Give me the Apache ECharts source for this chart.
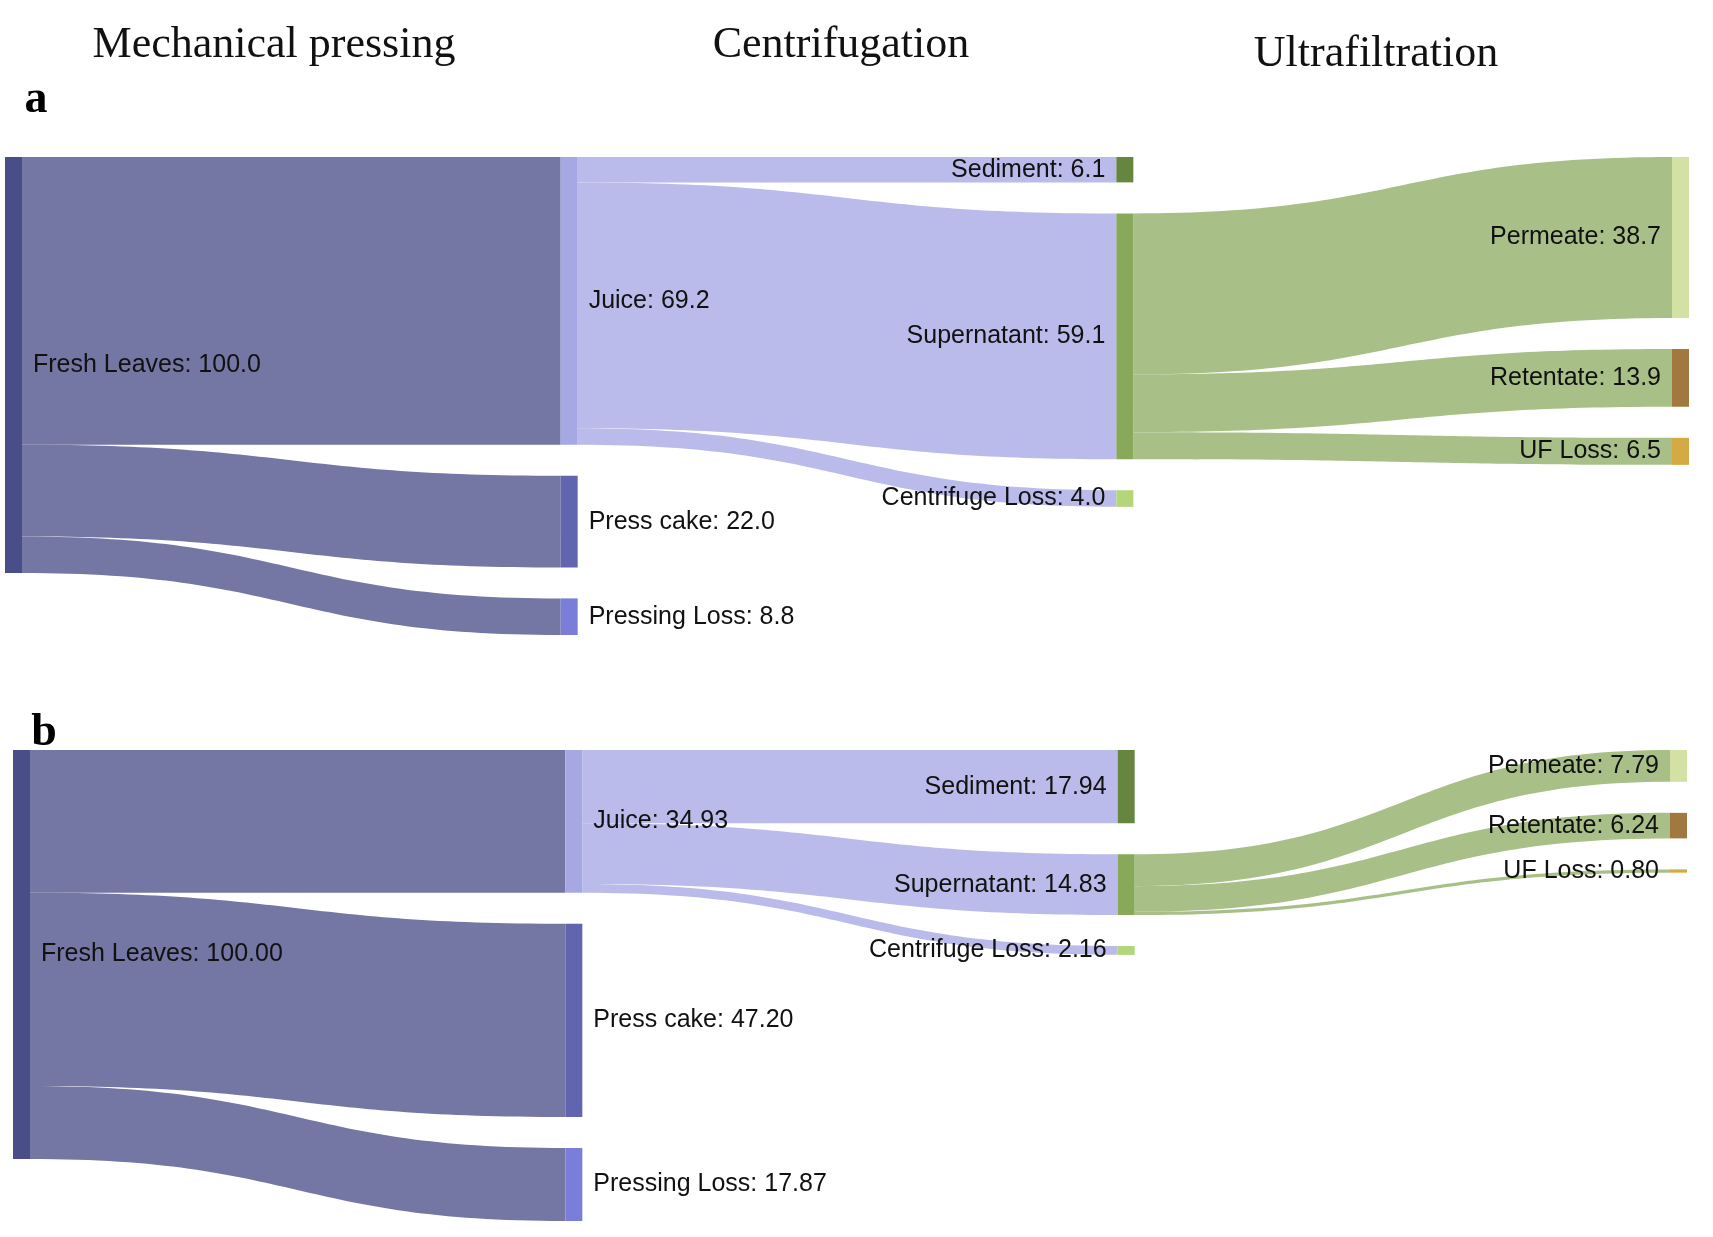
<!DOCTYPE html>
<html>
<head>
<meta charset="utf-8">
<script src="https://cdn.jsdelivr.net/npm/echarts@6/dist/echarts.min.js"></script>
<style>
html,body{margin:0;padding:0;background:#fff;}
#chart{width:1713px;height:1237px;}
</style>
</head>
<body>
<div id="chart"></div>
<script>
// ---- data ----
const stageTitles = ['Mechanical pressing', 'Centrifugation', 'Ultrafiltration'];
const panelLetters = ['a', 'b'];
const nodeNames = ['Fresh Leaves', 'Juice', 'Press cake', 'Pressing Loss', 'Sediment', 'Supernatant', 'Centrifuge Loss', 'Permeate', 'Retentate', 'UF Loss'];
const linkSources = ['Fresh Leaves', 'Fresh Leaves', 'Fresh Leaves', 'Juice', 'Juice', 'Juice', 'Supernatant', 'Supernatant', 'Supernatant'];
const linkTargets = ['Juice', 'Press cake', 'Pressing Loss', 'Sediment', 'Supernatant', 'Centrifuge Loss', 'Permeate', 'Retentate', 'UF Loss'];
const flowsA = [69.2, 22.0, 8.8, 6.1, 59.1, 4.0, 38.7, 13.9, 6.5];
const flowsB = [34.93, 47.20, 17.87, 17.94, 14.83, 2.16, 7.79, 6.24, 0.80];

// ---- styles ----
const nodeColors = {
  'Fresh Leaves': '#4a4e88',
  'Juice': '#a5a8e2',
  'Press cake': '#6165b0',
  'Pressing Loss': '#7a7ed8',
  'Sediment': '#66853f',
  'Supernatant': '#89a95a',
  'Centrifuge Loss': '#b3d67a',
  'Permeate': '#d3e2a4',
  'Retentate': '#a07840',
  'UF Loss': '#d4aa45'
};
const linkColors = {
  'Fresh Leaves': '#7476a3',
  'Juice': '#babbea',
  'Supernatant': '#a9bf88'
};
const rightLabelNodes = ['Fresh Leaves', 'Juice', 'Press cake', 'Pressing Loss'];

function buildSeries(flows, decimals, box) {
  return {
    type: 'sankey',
    left: box.left, top: box.top, right: box.right, height: box.height,
    nodeAlign: 'left',
    nodeWidth: 17,
    nodeGap: 31,
    layoutIterations: 0,
    draggable: false,
    emphasis: { disabled: true },
    silent: true,
    data: nodeNames.map(n => ({
      name: n,
      itemStyle: { color: nodeColors[n], borderWidth: 0 },
      label: {
        position: rightLabelNodes.includes(n) ? 'right' : 'left'
      }
    })),
    links: linkSources.map((s, i) => ({
      source: s, target: linkTargets[i], value: flows[i],
      lineStyle: { color: linkColors[s], opacity: 1 }
    })),
    lineStyle: { curveness: 0.5, opacity: 1 },
    label: {
      show: true,
      distance: 11,
      color: '#111',
      fontFamily: 'Liberation Sans, Arial, sans-serif',
      fontSize: 25,
      formatter: p => p.name + ': ' + Number(p.value).toFixed(decimals)
    }
  };
}

const titleX = [274, 841, 1376];
const titleY = [45, 45, 54];
const graphics = stageTitles.map((t, i) => ({
  type: 'text', x: titleX[i], y: titleY[i],
  style: { text: t, fontFamily: 'Liberation Serif, serif', fontSize: 44, fill: '#111', textAlign: 'center', textVerticalAlign: 'middle' }
}));
const letterX = [36, 44];
const letterY = [100, 733];
panelLetters.forEach((l, i) => graphics.push({
  type: 'text', x: letterX[i], y: letterY[i],
  style: { text: l, fontFamily: 'Liberation Serif, serif', fontWeight: 'bold', fontSize: 46, fill: '#000', textAlign: 'center', textVerticalAlign: 'middle' }
}));

const chart = echarts.init(document.getElementById('chart'));
chart.setOption({
  backgroundColor: '#fff',
  animation: false,
  graphic: graphics,
  series: [
    buildSeries(flowsA, 1, { left: 5, right: 24, top: 157, height: 478 }),
    buildSeries(flowsB, 2, { left: 13, right: 26, top: 750, height: 471 })
  ]
});
</script>
</body>
</html>
